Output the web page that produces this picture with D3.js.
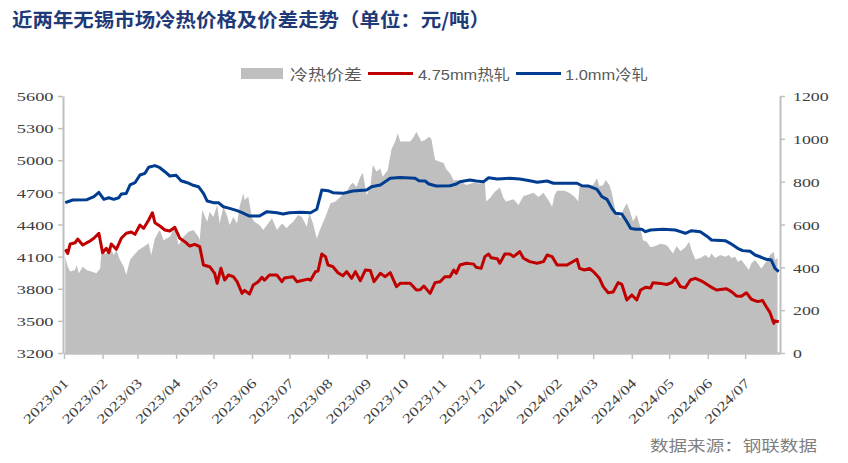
<!DOCTYPE html>
<html><head><meta charset="utf-8">
<script src="https://cdn.jsdelivr.net/npm/d3@7"></script>
<style>body{margin:0;background:#fff;} svg{display:block;} .tk text{font-family:"Liberation Serif","Times New Roman",serif !important;}</style>
</head><body>
<svg id="c" width="848" height="463"></svg>
<script>
// days since 2023-01-01, value
const spreadSeries = [[1,450],[3,403],[5,380],[9,388],[10,411],[12,372],[15,403],[18,388],[22,380],[26,372],[29,395],[30,465],[34,465],[37,496],[40,457],[42,481],[45,434],[48,403],[50,364],[53,434],[56,457],[60,481],[64,496],[68,512],[70,457],[73,535],[76,566],[77,574],[80,527],[85,543],[89,590],[92,504],[96,543],[100,566],[104,574],[108,543],[109,527],[111,668],[115,613],[117,660],[120,635],[123,691],[125,605],[128,683],[131,640],[133,598],[136,635],[139,605],[141,683],[144,746],[145,714],[148,730],[151,629],[153,613],[157,598],[160,574],[163,598],[167,629],[171,574],[175,605],[179,582],[181,598],[184,613],[188,644],[191,635],[195,590],[197,652],[200,605],[203,535],[206,582],[210,636],[214,699],[218,707],[222,730],[227,753],[230,784],[232,795],[235,775],[238,823],[240,842],[243,738],[246,775],[248,878],[251,847],[254,862],[256,823],[260,854],[263,951],[266,987],[268,1026],[270,987],[278,987],[281,1010],[283,1033],[285,1010],[287,987],[290,995],[293,1010],[295,1000],[298,901],[302,893],[305,886],[307,858],[310,839],[313,805],[316,808],[319,800],[323,784],[329,795],[334,792],[338,800],[339,707],[342,722],[346,753],[350,773],[353,722],[355,707],[361,718],[365,691],[369,733],[372,738],[377,748],[381,728],[385,748],[389,714],[392,683],[394,738],[396,758],[402,758],[406,747],[410,730],[413,707],[414,777],[421,780],[425,785],[428,816],[430,777],[433,785],[435,808],[438,785],[440,746],[443,660],[447,629],[449,668],[452,699],[455,652],[457,615],[460,645],[463,582],[465,527],[468,520],[471,494],[475,500],[479,510],[483,505],[485,497],[489,465],[492,500],[495,475],[499,494],[502,520],[504,480],[507,437],[511,443],[515,458],[518,443],[520,465],[523,443],[527,458],[531,450],[534,458],[536,443],[539,450],[541,426],[544,434],[547,411],[550,388],[552,419],[555,434],[558,411],[560,395],[564,426],[567,458],[570,473],[571,434],[573,443]];

const hotSeries = [[1,4168],[3,4130],[5,4218],[9,4230],[11,4265],[15,4208],[20,4240],[24,4271],[28,4318],[31,4137],[34,4178],[36,4137],[38,4218],[42,4168],[46,4271],[50,4318],[54,4330],[57,4308],[61,4395],[64,4364],[68,4442],[71,4510],[73,4417],[77,4386],[81,4349],[85,4340],[89,4374],[93,4271],[97,4240],[101,4199],[105,4215],[109,4193],[112,4022],[117,4006],[121,3944],[123,3851],[126,3991],[129,3882],[132,3928],[136,3913],[139,3866],[143,3757],[145,3785],[149,3751],[152,3835],[156,3866],[159,3907],[161,3880],[165,3928],[171,3928],[175,3866],[177,3900],[184,3913],[187,3866],[192,3880],[196,3890],[198,3880],[202,3960],[204,3966],[207,4124],[210,4100],[212,4022],[216,4006],[220,3950],[224,3922],[227,3960],[231,3897],[234,3960],[238,3875],[242,3975],[246,3970],[249,3866],[254,3944],[258,3913],[262,3950],[267,3820],[270,3851],[278,3851],[283,3788],[286,3790],[289,3826],[294,3757],[298,3857],[302,3866],[306,3913],[310,3913],[313,3975],[315,3944],[318,4022],[323,4038],[329,4030],[331,4000],[335,3990],[338,4100],[341,4124],[343,4090],[348,4080],[350,4038],[354,4124],[358,4124],[361,4100],[366,4146],[369,4085],[374,4053],[380,4038],[385,4053],[388,4115],[392,4100],[396,4022],[404,4022],[412,4075],[414,3991],[418,3975],[422,3990],[426,3950],[430,3897],[433,3820],[437,3763],[441,3770],[445,3857],[448,3840],[452,3695],[456,3742],[460,3695],[463,3788],[467,3813],[471,3806],[473,3857],[479,3850],[484,3840],[488,3857],[491,3897],[495,3820],[499,3810],[503,3882],[507,3897],[513,3866],[519,3820],[524,3788],[532,3800],[536,3773],[540,3733],[544,3730],[548,3763],[552,3702],[557,3680],[561,3690],[564,3632],[567,3577],[570,3477],[571,3500],[574,3492]];

const coldSeries = [[1,4604],[7,4629],[18,4630],[24,4660],[28,4700],[32,4635],[36,4650],[40,4635],[44,4650],[46,4685],[50,4690],[53,4769],[57,4790],[61,4862],[65,4878],[68,4934],[73,4950],[77,4930],[81,4893],[85,4853],[90,4860],[94,4809],[99,4790],[103,4769],[108,4753],[112,4691],[115,4619],[120,4604],[124,4604],[128,4566],[133,4551],[139,4529],[143,4510],[149,4479],[157,4479],[163,4520],[171,4510],[176,4498],[181,4510],[190,4515],[198,4510],[203,4542],[207,4722],[212,4716],[216,4697],[224,4691],[232,4713],[243,4722],[247,4753],[254,4769],[262,4831],[270,4840],[282,4831],[285,4809],[290,4806],[293,4778],[299,4759],[310,4762],[315,4778],[318,4800],[326,4816],[331,4806],[337,4800],[341,4837],[348,4825],[358,4831],[366,4825],[374,4809],[380,4794],[388,4806],[393,4785],[412,4785],[416,4762],[421,4760],[428,4728],[432,4660],[436,4635],[440,4551],[443,4504],[448,4498],[452,4426],[455,4364],[459,4355],[464,4355],[467,4333],[471,4349],[481,4355],[491,4349],[495,4333],[499,4318],[504,4342],[511,4333],[516,4293],[520,4255],[531,4249],[535,4224],[541,4178],[545,4156],[551,4150],[555,4115],[560,4094],[564,4075],[568,4068],[571,3991],[574,3960]];

const leftTicks = [3200,3500,3800,4100,4400,4700,5000,5300,5600];
const rightTicks = [0,200,400,600,800,1000,1200];
const monthLabels = ["2023/01","2023/02","2023/03","2023/04","2023/05","2023/06","2023/07","2023/08","2023/09","2023/10","2023/11","2023/12","2024/01","2024/02","2024/03","2024/04","2024/05","2024/06","2024/07"];
const seriesNames = ["冷热价差","4.75mm热轧","1.0mm冷轧"];
const titleText = "近两年无锡市场冷热价格及价差走势（单位：元/吨）";
const sourceText = "数据来源：钢联数据";

const svg = d3.select("#c");
const t0 = new Date(2023,0,1);
const toDate = d => d3.timeDay.offset(t0, d);
const x = d3.scaleTime().domain([t0, new Date(2024,6,29)]).range([64,780]);
const yL = d3.scaleLinear().domain([3200,5600]).range([353,96]);
const yR = d3.scaleLinear().domain([0,1200]).range([353,96]);

const GRAY = "#BFBFBF", RED = "#C00000", BLUE = "#003C8F";

svg.append("path").datum(spreadSeries).attr("fill", GRAY)
  .attr("d", d3.area().x(d => x(toDate(d[0]))).y0(yR(0)).y1(d => yR(d[1])));

const line = d3.line().x(d => x(toDate(d[0]))).y(d => yL(d[1]));
svg.append("path").datum(hotSeries).attr("fill","none").attr("stroke",RED)
  .attr("stroke-width",3).attr("stroke-linejoin","round").attr("d", line);
svg.append("path").datum(coldSeries).attr("fill","none").attr("stroke",BLUE)
  .attr("stroke-width",3).attr("stroke-linejoin","round").attr("d", line);

function styleAxis(g, w){
  g.attr("class","tk").attr("font-family",null);
  g.select(".domain").attr("stroke","#C0C0C0").attr("stroke-width",w);
  g.selectAll(".tick line").attr("stroke","#C0C0C0").attr("stroke-width",1.5);
  g.selectAll("text").style("font-family","'Liberation Serif', 'Times New Roman', serif").attr("font-size",13.5).attr("fill","#404040");
}

const axL = svg.append("g").attr("transform","translate(63,0)")
  .call(d3.axisLeft(yL).tickValues(leftTicks).tickSize(5).tickSizeOuter(0).tickFormat(d3.format("d")));
styleAxis(axL, 2);
axL.selectAll("text").attr("x",0).attr("dy","0.35em").attr("transform","translate(-9.5,0) scale(1.36,1)");

const axR = svg.append("g").attr("transform","translate(780,0)")
  .call(d3.axisRight(yR).tickValues(rightTicks).tickSize(5).tickSizeOuter(0).tickFormat(d3.format("d")));
styleAxis(axR, 2);
axR.selectAll("text").attr("x",0).attr("dy","0.35em").attr("transform","translate(13,0) scale(1.32,1)");

const monthDates = monthLabels.map(s => { const p = s.split("/"); return new Date(+p[0], +p[1]-1, 1); });
const axB = svg.append("g").attr("transform","translate(0,353)")
  .call(d3.axisBottom(x).tickValues(monthDates).tickSize(6).tickSizeOuter(0).tickFormat((d,i) => monthLabels[i]));
styleAxis(axB, 2.5);
axB.selectAll("text").attr("x",0).attr("y",0).attr("dy",0).attr("text-anchor","end")
  .attr("transform","translate(5,31) rotate(-45) scale(1.3,1)");

svg.append("text").attr("x",12).attr("y",27).text(titleText)
  .attr("font-family","'Noto Sans CJK SC', sans-serif").attr("font-weight",700)
  .attr("font-size",19).attr("fill","#1F3A78")
  .attr("textLength",478).attr("lengthAdjust","spacingAndGlyphs");

const lg = svg.append("g");
const legFont = "'Liberation Sans', 'Noto Sans CJK SC', sans-serif";
lg.append("rect").attr("x",241).attr("y",68).attr("width",42).attr("height",11).attr("fill",GRAY);
const legTexts = [{x:290,w:72},{x:418,w:92},{x:565,w:83}];
seriesNames.forEach((n,i) => {
  lg.append("text").attr("x",legTexts[i].x).attr("y",80).text(n)
    .attr("font-family",legFont).attr("font-size",15).attr("fill","#595959")
    .attr("textLength",legTexts[i].w).attr("lengthAdjust","spacingAndGlyphs");
});
lg.append("line").attr("x1",368).attr("x2",413).attr("y1",73.5).attr("y2",73.5).attr("stroke",RED).attr("stroke-width",3);
lg.append("line").attr("x1",516).attr("x2",561).attr("y1",73.5).attr("y2",73.5).attr("stroke",BLUE).attr("stroke-width",3);

svg.append("text").attr("x",650).attr("y",451).text(sourceText)
  .attr("font-family","'Noto Sans CJK SC', sans-serif").attr("font-size",15).attr("fill","#7F7F7F")
  .attr("textLength",167).attr("lengthAdjust","spacingAndGlyphs");
</script>
</body></html>
